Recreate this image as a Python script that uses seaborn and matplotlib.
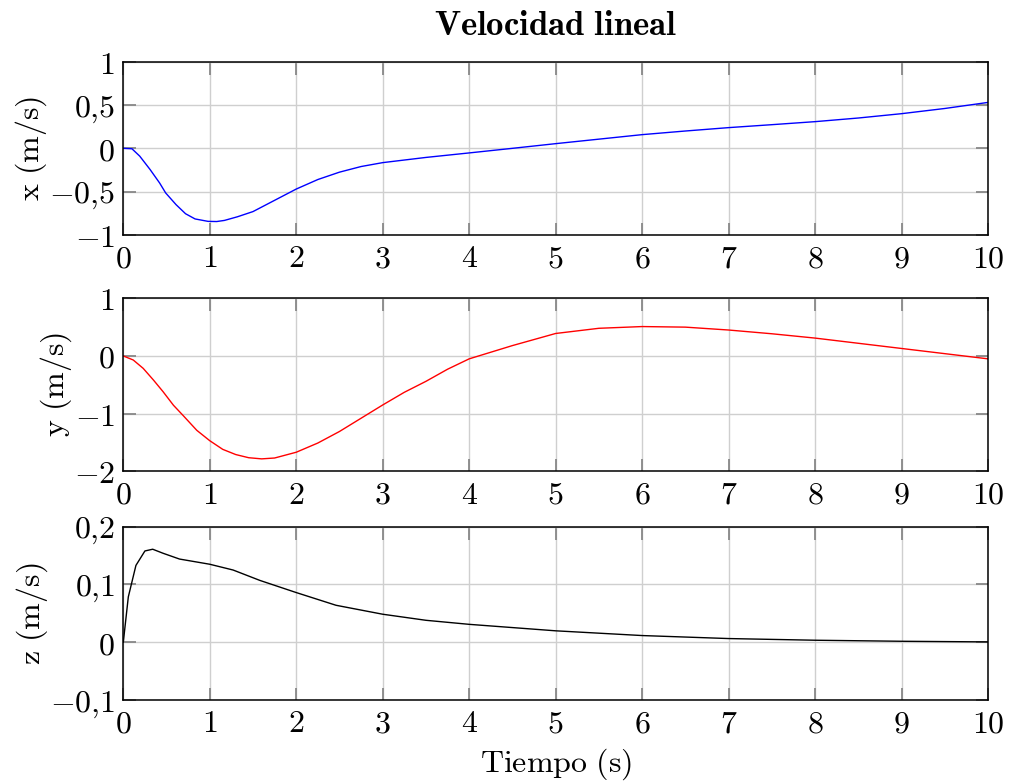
import numpy as np
import pandas as pd
import seaborn as sns
import matplotlib
matplotlib.use("Agg")
import matplotlib.pyplot as plt
from matplotlib.ticker import FixedLocator

# ---- data ----
t_x = [0, 0.1, 0.19, 0.31, 0.42, 0.49, 0.61, 0.72, 0.83, 0.98, 1.08, 1.17, 1.32,
       1.5, 1.75, 2.0, 2.25, 2.5, 2.75, 3.0, 3.5, 4.0, 4.5, 5.0, 5.5, 6.0, 6.5,
       7.0, 7.5, 8.0, 8.5, 9.0, 9.5, 10.0]
v_x = [0, -0.005, -0.09, -0.245, -0.40, -0.515, -0.65, -0.755, -0.815, -0.843,
       -0.845, -0.832, -0.79, -0.73, -0.60, -0.47, -0.36, -0.275, -0.21, -0.165,
       -0.105, -0.053, 0.0, 0.054, 0.106, 0.158, 0.20, 0.239, 0.273, 0.308, 0.35,
       0.40, 0.46, 0.53]

t_y = [0, 0.115, 0.23, 0.35, 0.46, 0.58, 0.69, 0.85, 1.0, 1.15, 1.3, 1.45, 1.6,
       1.75, 2.0, 2.25, 2.5, 2.75, 3.0, 3.25, 3.5, 3.75, 4.0, 4.5, 5.0, 5.5, 6.0,
       6.5, 7.0, 7.5, 8.0, 8.5, 9.0, 9.5, 10.0]
v_y = [0, -0.07, -0.215, -0.42, -0.62, -0.855, -1.03, -1.29, -1.47, -1.62, -1.71,
       -1.765, -1.785, -1.77, -1.67, -1.51, -1.31, -1.08, -0.85, -0.63, -0.44,
       -0.23, -0.05, 0.18, 0.39, 0.48, 0.51, 0.50, 0.45, 0.385, 0.31, 0.22, 0.13,
       0.04, -0.05]

t_z = [0, 0.058, 0.146, 0.25, 0.34, 0.46, 0.65, 1.0, 1.27, 1.58, 2.0, 2.46, 3.0,
       3.5, 4.0, 5.0, 6.0, 7.0, 8.0, 9.0, 10.0]
v_z = [0, 0.0785, 0.133, 0.158, 0.161, 0.154, 0.144, 0.135, 0.125, 0.107, 0.086,
       0.064, 0.0485, 0.038, 0.031, 0.0198, 0.0116, 0.0064, 0.0035, 0.0017, 0.0006]

x_ticks = list(range(0, 11))
x_ticklabels = [f"${v}$" for v in x_ticks]
yticks_x = [-1, -0.5, 0, 0.5, 1]
ylabels_x = [r"$-1$", r"$-0{,}5$", r"$0$", r"$0{,}5$", r"$1$"]
yticks_y = [-2, -1, 0, 1]
ylabels_y = [r"$-2$", r"$-1$", r"$0$", r"$1$"]
yticks_z = [-0.1, 0, 0.1, 0.2]
ylabels_z = [r"$-0{,}1$", r"$0$", r"$0{,}1$", r"$0{,}2$"]

title = r"$\mathbf{Velocidad\ lineal}$"
ylab = [r"$\mathrm{x\ (m/s)}$", r"$\mathrm{y\ (m/s)}$", r"$\mathrm{z\ (m/s)}$"]
xlab = r"$\mathrm{Tiempo\ (s)}$"

# ---- style ----
sns.set_style("white")
plt.rcParams["mathtext.fontset"] = "cm"
plt.rcParams["font.family"] = ["DejaVu Serif"]
plt.rcParams["text.color"] = "black"
plt.rcParams["axes.labelcolor"] = "black"
plt.rcParams["xtick.labelcolor"] = "black"
plt.rcParams["ytick.labelcolor"] = "black"

fig = plt.figure(figsize=(10.09, 7.84), dpi=100)
L, R = 0.1222, 0.9792
boxes = [(0.7003, 0.9213), (0.3989, 0.6195), (0.1071, 0.3282)]
series = [(t_x, v_x, "#0000ff", (-1, 1), yticks_x, ylabels_x),
          (t_y, v_y, "#ff0000", (-2, 1), yticks_y, ylabels_y),
          (t_z, v_z, "#000000", (-0.1, 0.2), yticks_z, ylabels_z)]

FS = 23
axes = []
for i, ((b, tp), (tt, vv, col, ylim, yt, yl)) in enumerate(zip(boxes, series)):
    ax = fig.add_axes([L, b, R - L, tp - b])
    df = pd.DataFrame({"t": tt, "v": vv})
    sns.lineplot(data=df, x="t", y="v", ax=ax, color=col, linewidth=1.0)
    ax.set_xlim(0, 10)
    ax.set_ylim(*ylim)
    ax.xaxis.set_major_locator(FixedLocator(x_ticks))
    ax.set_xticklabels(x_ticklabels, fontsize=FS, color="black")
    ax.yaxis.set_major_locator(FixedLocator(yt))
    ax.set_yticklabels(yl, fontsize=FS, color="black")
    ax.grid(True, color="#cfcfcf", linewidth=1.0)
    ax.set_axisbelow(True)
    ax.tick_params(direction="in", length=9, width=1.3, color="#888888",
                   top=True, right=True, bottom=True, left=True, pad=6)
    for s in ax.spines.values():
        s.set_color("black")
        s.set_linewidth(1.1)
    ax.set_ylabel(ylab[i], fontsize=FS, labelpad=0, color="black")
    ax.set_xlabel("")
    axes.append(ax)

# align the y labels at a common x like the reference
fig.align_ylabels(axes)

axes[0].set_title(title, fontsize=25, pad=19, color="black")
axes[2].set_xlabel(xlab, fontsize=FS, labelpad=5, color="black")

fig.savefig("out.png", dpi=100)
